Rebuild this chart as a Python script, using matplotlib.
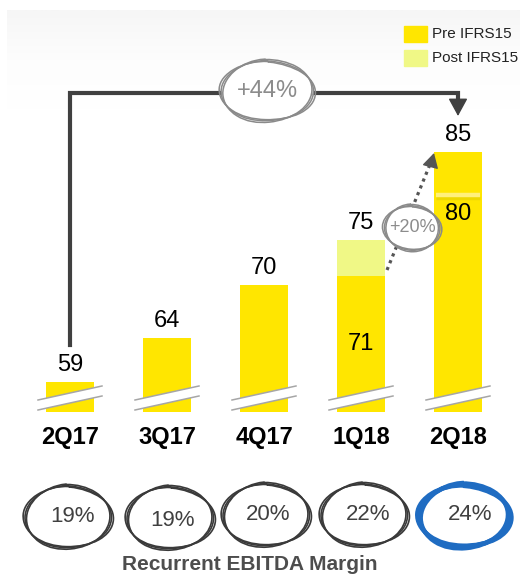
import numpy as np
import matplotlib.pyplot as plt
from matplotlib.patches import Ellipse, Rectangle, Polygon
from matplotlib.colors import LinearSegmentedColormap

plt.rcParams['font.family'] = ['Liberation Sans', 'DejaVu Sans']

# data
quarters = ['2Q17', '3Q17', '4Q17', '1Q18', '2Q18']
pre_ifrs = [59, 64, 70, 71, 85]
post_ifrs = [59, 64, 70, 75, 85]
inner_vals = [None, None, None, 71, 80]
top_vals = [59, 64, 70, 75, 85]
margins = ['19%', '19%', '20%', '22%', '24%']
growth_yoy = '+44%'
growth_qoq = '+20%'

YELLOW = '#FFE600'
LIGHT = '#F0F886'
DARK = '#404040'
GREY = '#8C8C8C'
BLUE = '#1F6CC2'

W, H = 520, 574
fig = plt.figure(figsize=(W / 100, H / 100), dpi=100)

# faint grey gradient behind everything at the top
bg = fig.add_axes([0, 0, 1, 1], zorder=0)
cmap = LinearSegmentedColormap.from_list('bg', ['#F6F6F6', '#FDFDFD', '#FFFFFF'])
grad = np.linspace(0, 1, 64).reshape(-1, 1)
bg.imshow(grad, cmap=cmap, extent=(7, W, 110, 10), aspect='auto')
bg.set_xlim(0, W)
bg.set_ylim(H, 0)
bg.axis('off')

# bar axes: one x unit per quarter, y axis cut near 55.6
px_x = 97.0
px_y = 8.85
base = 55.6
x0_px = 70.0
base_px = 412.0
ax = fig.add_axes([0, 0, 1, 1], zorder=1)
ax.patch.set_alpha(0)
ax.set_xlim(-x0_px / px_x, (W - x0_px) / px_x)
ax.set_ylim(base - (H - base_px) / px_y, base + base_px / px_y)
ax.axis('off')


def yv(p):
    """pixel row (from top) -> data value"""
    return base + (base_px - p) / px_y


xs = np.arange(len(quarters))
bw = 0.495
ax.bar(xs, np.array(pre_ifrs) - base, bottom=base, width=bw, color=YELLOW, zorder=2)
extra = np.array(post_ifrs) - np.array(pre_ifrs)
ax.bar(xs, extra, bottom=pre_ifrs, width=bw, color=LIGHT, zorder=2)

# value labels
for i, v in enumerate(top_vals):
    ax.annotate(str(v), (xs[i], v), xytext=(0, 12.2), textcoords='offset points',
                ha='center', va='center', fontsize=17, color='black', zorder=5)
    ax.annotate(quarters[i], (xs[i], base), xytext=(0, -18), textcoords='offset points',
                ha='center', va='center', fontsize=17, fontweight='bold',
                color='black', zorder=5)

# inner labels
ax.text(xs[3], (base + inner_vals[3]) / 2, str(inner_vals[3]), ha='center',
        va='center', fontsize=17, zorder=5)
ax.plot([xs[4] - bw / 2 + 0.02, xs[4] + bw / 2 - 0.02], [inner_vals[4] - 0.2] * 2,
        color='#EED800', lw=2.5, zorder=3, solid_capstyle='butt')
ax.plot([xs[4] - bw / 2 + 0.02, xs[4] + bw / 2 - 0.02], [inner_vals[4] + 0.1] * 2,
        color='#FFF07C', lw=3.2, zorder=3, solid_capstyle='butt')
ax.annotate(str(inner_vals[4]), (xs[4], inner_vals[4]), xytext=(0, -13),
            textcoords='offset points', ha='center', va='center', fontsize=17, zorder=5)

# axis break marks
for i in xs:
    dx = 32 / px_x
    up = [(i - dx, base + 12 / px_y), (i + dx, base + 26 / px_y)]
    lo = [(i - dx, base + 2 / px_y), (i + dx, base + 16 / px_y)]
    ax.add_patch(Polygon([up[0], up[1], lo[1], lo[0]], closed=True,
                         facecolor='white', edgecolor='none', zorder=3))
    for seg in (up, lo):
        ax.plot([seg[0][0], seg[1][0]], [seg[0][1], seg[1][1]],
                color='#A6A6A6', lw=1.1, zorder=4)

# bracket 2Q17 -> 2Q18
y_top = yv(93)
ax.plot([xs[0], xs[0], xs[4], xs[4]], [yv(345), y_top, y_top, yv(100)],
        color=DARK, lw=3, zorder=1, solid_joinstyle='miter')
ax.annotate('', xy=(xs[4], yv(116)), xytext=(xs[4], yv(101)),
            arrowprops=dict(arrowstyle='-|>,head_length=0.55,head_width=0.3',
                            color=DARK, lw=1, mutation_scale=20,
                            shrinkA=0, shrinkB=0), zorder=1)

# dotted arrow 1Q18 -> 2Q18
sx, sy = xs[3] + 26 / px_x, yv(270)
ex, ey = xs[4] - 25 / px_x, yv(157)
ax.plot([sx, ex], [sy, ey], ls=(0, (1, 1.3)), lw=2.3, color='#555555', zorder=4)
ax.annotate('', xy=(xs[4] - 24 / px_x, yv(153)), xytext=(ex - 0.02, ey - 0.8),
            arrowprops=dict(arrowstyle='-|>,head_length=0.5,head_width=0.28',
                            color='#555555', lw=1, mutation_scale=18,
                            shrinkA=0, shrinkB=0), zorder=4)

# decoration overlay in pixel coordinates
deco = fig.add_axes([0, 0, 1, 1], zorder=5)
deco.patch.set_alpha(0)
deco.set_xlim(0, W)
deco.set_ylim(H, 0)
deco.axis('off')


def sketch_ellipse(cx, cy, w, h, color, lw, fill=True):
    if fill:
        deco.add_patch(Ellipse((cx, cy), w, h, facecolor='white',
                               edgecolor='none', zorder=3))
    for dw, dh, ang in [(0, 0, 0), (4, -2, 3), (-3, 3, -4)]:
        e = Ellipse((cx, cy), w + dw, h + dh, angle=ang, fill=False,
                    edgecolor=color, lw=lw, zorder=4)
        e.set_sketch_params(scale=0.5, length=80, randomness=1.5)
        deco.add_patch(e)


sketch_ellipse(267, 91, 92, 60, '#8A8A8A', 1.1)
deco.text(267, 91, growth_yoy, ha='center', va='center', fontsize=17,
          color=GREY, zorder=5)
sketch_ellipse(412, 228, 56, 44, '#8A8A8A', 1.1)
deco.text(412, 228, growth_qoq, ha='center', va='center', fontsize=13,
          color=GREY, zorder=5)

# legend
deco.add_patch(Rectangle((404, 26), 23, 16, color=YELLOW, zorder=3))
deco.add_patch(Rectangle((404, 50), 23, 16, color=LIGHT, zorder=3))
deco.text(432, 34, 'Pre IFRS15', ha='left', va='center', fontsize=11, color='#222222')
deco.text(432, 58, 'Post IFRS15', ha='left', va='center', fontsize=11, color='#222222')

# margin circles
ell_dx = [-2, 3, 2, 3, 6]
ell_dy = [517, 518, 515, 515, 516]
txt_dx = [2, 6, 4, 7, 12]
txt_dy = [517, 521, 515, 515, 515]
for i, m in enumerate(margins):
    cx = x0_px + i * px_x
    last = i == len(margins) - 1
    if last:
        sketch_ellipse(cx + ell_dx[i], ell_dy[i], 90, 62, BLUE, 3.2, fill=False)
    else:
        sketch_ellipse(cx + ell_dx[i], ell_dy[i], 86, 62, '#3A3A3A', 1.2, fill=False)
    deco.text(cx + txt_dx[i], txt_dy[i], m, ha='center', va='center',
              fontsize=16, color=DARK, zorder=5)

deco.text(250, 565, 'Recurrent EBITDA Margin', ha='center', va='center',
          fontsize=15, fontweight='bold', color='#4D4D4D')

fig.savefig('out.png', dpi=100)
